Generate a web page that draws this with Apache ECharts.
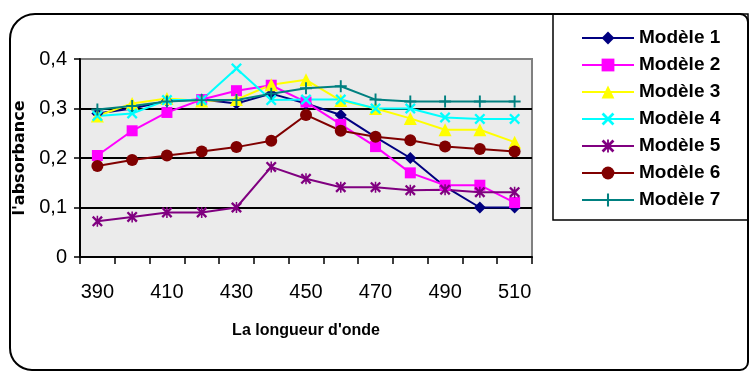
<!DOCTYPE html>
<html>
<head>
<meta charset="utf-8">
<script src="https://cdn.jsdelivr.net/npm/echarts@6/dist/echarts.min.js"></script>
<style>html,body{margin:0;padding:0;background:#fff;}#c{width:750px;height:372px;}</style>
</head>
<body>
<div id="c"></div>
<script>
const categories = ['390','400','410','420','430','440','450','460','470','480','490','500','510'];
const seriesNames = ['Modèle 1','Modèle 2','Modèle 3','Modèle 4','Modèle 5','Modèle 6','Modèle 7'];
const modele1 = [0.290, 0.300, 0.315, 0.318, 0.310, 0.330, 0.310, 0.287, 0.242, 0.200, 0.142, 0.100, 0.100];
const modele2 = [0.205, 0.255, 0.292, 0.318, 0.336, 0.347, 0.313, 0.268, 0.223, 0.170, 0.145, 0.145, 0.110];
const modele3 = [0.285, 0.310, 0.320, 0.315, 0.318, 0.348, 0.358, 0.316, 0.300, 0.280, 0.257, 0.257, 0.232];
const modele4 = [0.285, 0.290, 0.317, 0.317, 0.381, 0.317, 0.318, 0.318, 0.300, 0.300, 0.282, 0.279, 0.279];
const modele5 = [0.072, 0.081, 0.090, 0.090, 0.100, 0.182, 0.158, 0.141, 0.141, 0.135, 0.136, 0.131, 0.131];
const modele6 = [0.184, 0.196, 0.205, 0.213, 0.222, 0.235, 0.287, 0.255, 0.243, 0.236, 0.223, 0.218, 0.213];
const modele7 = [0.298, 0.305, 0.314, 0.317, 0.317, 0.330, 0.341, 0.345, 0.318, 0.314, 0.314, 0.314, 0.314];
const yTicks = [0, 0.1, 0.2, 0.3, 0.4];

const FONT = 'Liberation Sans, Arial, sans-serif';
const xPath = 'path://M0,1.5L1.5,0L5,3.5L8.5,0L10,1.5L6.5,5L10,8.5L8.5,10L5,6.5L1.5,10L0,8.5L3.5,5Z';
const plusPath = 'path://M4.2,0H5.8V4.2H10V5.8H5.8V10H4.2V5.8H0V4.2H4.2Z';
const starPath = 'path://M0,1.5L1.5,0L5,3.5L8.5,0L10,1.5L6.5,5L10,8.5L8.5,10L5,6.5L1.5,10L0,8.5L3.5,5Z M4.3,0H5.7V10H4.3Z';

const data = [modele1, modele2, modele3, modele4, modele5, modele6, modele7];
const colors = ['#000080', '#FF00FF', '#FFFF00', '#00FFFF', '#800080', '#800000', '#008080'];
const symbols = ['diamond', 'rect', 'triangle', xPath, starPath, 'circle', plusPath];
const sizes = [12, 11, 13, 11, 11, 12, 12];

const chart = echarts.init(document.getElementById('c'), null, {renderer: 'canvas'});
chart.setOption({
  animation: false,
  backgroundColor: '#ffffff',
  graphic: [
    {type: 'rect', z: 0, shape: {x: 10, y: 14, width: 738, height: 356, r: [25, 8, 8, 22]},
     style: {fill: 'none', stroke: '#000', lineWidth: 2}},
    {type: 'rect', z: 0, shape: {x: 553, y: 14, width: 195, height: 206},
     style: {fill: 'none', stroke: '#000', lineWidth: 1.5}}
  ],
  grid: {left: 80, top: 59, right: 218, bottom: 115, show: true,
    backgroundColor: '#EBEBEB', borderColor: '#808080', borderWidth: 2},
  legend: {
    orient: 'vertical', left: 576, top: 22, itemWidth: 52, itemHeight: 16, itemGap: 5,
    textStyle: {fontFamily: FONT, fontWeight: 'bold', fontSize: 19, color: '#000', lineHeight: 22},
    data: seriesNames
  },
  xAxis: {
    type: 'category', data: categories, boundaryGap: true,
    name: "La longueur d'onde", nameLocation: 'middle', nameGap: 66,
    nameTextStyle: {fontFamily: FONT, fontWeight: 'bold', fontSize: 16, color: '#000'},
    axisLine: {lineStyle: {color: '#000', width: 2}},
    axisTick: {show: true, interval: 0, length: 7, lineStyle: {color: '#000', width: 1.5}},
    axisLabel: {interval: 1, margin: 25, fontFamily: FONT, fontSize: 20, color: '#000'},
    splitLine: {show: false}
  },
  yAxis: {
    type: 'value', min: 0, max: 0.4, interval: 0.1,
    name: "l'absorbance", nameLocation: 'middle', nameGap: 47, nameRotate: 90,
    nameTextStyle: {fontFamily: 'DejaVu Sans, sans-serif', fontWeight: 'bold', fontSize: 16, color: '#000'},
    axisLine: {show: true, lineStyle: {color: '#000', width: 2}},
    axisTick: {show: true, length: 6, lineStyle: {color: '#000', width: 1.5}},
    axisLabel: {margin: 13, fontFamily: FONT, fontSize: 20, color: '#000',
      formatter: v => String(v).replace('.', ',')},
    splitLine: {show: true, showMinLine: false, showMaxLine: false, lineStyle: {color: '#000', width: 2}}
  },
  series: seriesNames.map((n, i) => ({
    name: n, type: 'line', data: data[i],
    symbol: symbols[i], symbolSize: sizes[i], showAllSymbol: true,
    lineStyle: {color: colors[i], width: 2},
    itemStyle: {color: colors[i], borderWidth: 0, opacity: 1},
    emphasis: {disabled: true}
  }))
});
</script>
</body>
</html>
